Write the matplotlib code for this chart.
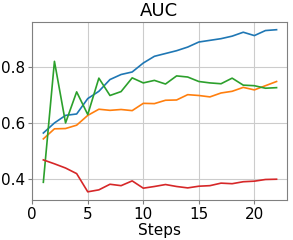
import numpy as np
import matplotlib
matplotlib.use("Agg")
import matplotlib.pyplot as plt

steps = list(range(1, 23))

# AUC per step for each run
auc_blue = [0.564, 0.600, 0.627, 0.632, 0.687, 0.713, 0.755, 0.773, 0.782, 0.814, 0.838,
            0.848, 0.858, 0.871, 0.889, 0.895, 0.901, 0.910, 0.924, 0.912, 0.930, 0.933]
auc_orange = [0.543, 0.579, 0.580, 0.592, 0.627, 0.649, 0.645, 0.648, 0.644, 0.670, 0.669,
              0.681, 0.682, 0.701, 0.698, 0.693, 0.707, 0.713, 0.727, 0.718, 0.733, 0.748]
auc_green = [0.388, 0.820, 0.600, 0.711, 0.630, 0.760, 0.698, 0.712, 0.761, 0.743, 0.752,
             0.739, 0.768, 0.764, 0.748, 0.743, 0.740, 0.760, 0.735, 0.733, 0.724, 0.726]
auc_red = [0.468, 0.454, 0.439, 0.419, 0.354, 0.361, 0.381, 0.376, 0.393, 0.367, 0.373,
           0.380, 0.373, 0.368, 0.374, 0.376, 0.385, 0.383, 0.390, 0.392, 0.398, 0.399]

fig, ax = plt.subplots(figsize=(2.93, 2.4), dpi=100)
fig.subplots_adjust(left=0.11, right=0.978, top=0.91, bottom=0.167)

ax.plot(steps, auc_blue, color="#1f77b4", lw=1.2)
ax.plot(steps, auc_orange, color="#ff7f0e", lw=1.2)
ax.plot(steps, auc_green, color="#2ca02c", lw=1.2)
ax.plot(steps, auc_red, color="#d62728", lw=1.2)

ax.set_xlim(0, 22.9)
ax.set_xticks([0, 5, 10, 15, 20])
ax.set_yticks([0.4, 0.6, 0.8])
ax.grid(True, color="#cccccc", lw=0.8)
ax.set_axisbelow(True)
for s in ax.spines.values():
    s.set_color("#808080")
ax.tick_params(colors="#808080", labelcolor="black", labelsize=11, length=3, pad=2)

ax.set_title("AUC", fontsize=13, pad=4)
ax.set_xlabel("Steps", fontsize=11, labelpad=1)

fig.savefig("out.png", dpi=100)
